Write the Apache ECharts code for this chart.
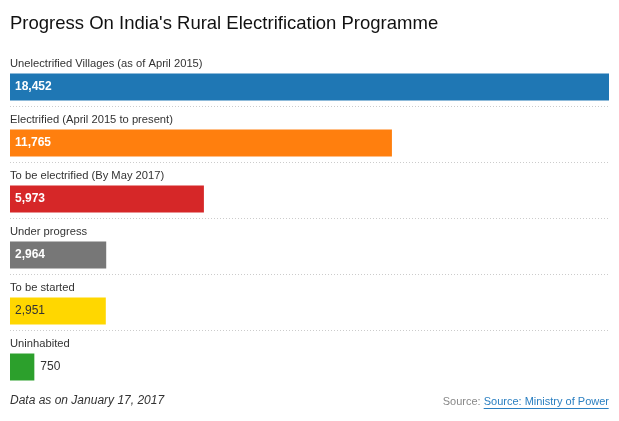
<!DOCTYPE html>
<html>
<head>
<meta charset="utf-8">
<script src="https://cdn.jsdelivr.net/npm/echarts@6/dist/echarts.min.js"></script>
<style>
html,body{margin:0;padding:0;background:#fff;}
#chart{width:619px;height:421px;}
</style>
</head>
<body>
<div id="chart"></div>
<script>
var categories = [
  "Unelectrified Villages (as of April 2015)",
  "Electrified (April 2015 to present)",
  "To be electrified (By May 2017)",
  "Under progress",
  "To be started",
  "Uninhabited"
];
var values = [18452, 11765, 5973, 2964, 2951, 750];
var colors = ["#1f77b4", "#ff7f0e", "#d62728", "#777777", "#ffd700", "#2ca02c"];
var titleText = "Progress On India's Rural Electrification Programme";
var noteText = "Data as on January 17, 2017";
var sourceText = "Source: Ministry of Power";

var FONT = "'Liberation Sans', Arial, sans-serif";
var chart = echarts.init(document.getElementById('chart'), null, {renderer: 'canvas'});

function fmt(v){ return v.toLocaleString('en-US'); }

var barData = values.map(function(v, i){
  var item = {value: v, itemStyle: {color: colors[i]}};
  if (i === 4) {
    item.label = {color: '#333', fontWeight: 'normal'};
  }
  if (i === 5) {
    item.label = {position: 'right', distance: 6, color: '#333', fontWeight: 'normal'};
  }
  return item;
});

chart.setOption({
  animation: false,
  title: {
    text: titleText,
    left: 5, top: 9,
    textStyle: {fontFamily: FONT, fontSize: 18.5, fontWeight: 'normal', color: '#111'}
  },
  grid: {left: 10, right: 10, top: 50, height: 336, containLabel: false},
  xAxis: {
    type: 'value', min: 0, max: Math.max.apply(null, values),
    show: false
  },
  yAxis: {
    type: 'category', data: categories, inverse: true,
    axisLine: {show: false}, axisTick: {show: false}, axisLabel: {show: false},
    splitLine: {show: true, showMinLine: false, showMaxLine: false,
      lineStyle: {type: [1, 2], color: '#cccccc', width: 1}}
  },
  series: [
    {
      type: 'bar', name: 'names', silent: true,
      data: values,
      barWidth: 18, barGap: 0,
      itemStyle: {color: 'rgba(0,0,0,0)'},
      label: {
        show: true, position: 'insideLeft', distance: 0, offset: [0, -1],
        formatter: function(p){ return categories[p.dataIndex]; },
        fontFamily: FONT, fontSize: 11.2, color: '#333'
      }
    },
    {
      type: 'bar', name: 'values', silent: true,
      data: barData,
      barWidth: 27, barGap: 0,
      label: {
        show: true, position: 'insideLeft', distance: 5,
        formatter: function(p){ return fmt(p.value); },
        fontFamily: FONT, fontSize: 12, fontWeight: 'bold', color: '#fff'
      }
    }
  ],
  graphic: [
    {
      type: 'text', left: 10, top: 395,
      style: {text: noteText, font: "italic 12px " + FONT, fill: '#333'}
    },
    {
      type: 'group', right: 10, top: 396,
      children: [
        {type: 'text', left: 0, top: 0,
          style: {text: 'Source: ', font: "11px " + FONT, fill: '#888'}},
        {type: 'text', left: 41, top: 0,
          style: {text: sourceText, font: "11px " + FONT, fill: '#2a7fc1'}},
        {type: 'rect', left: 41, top: 12,
          shape: {width: 125, height: 1}, style: {fill: '#2a7fc1'}}
      ]
    }
  ]
});
</script>
</body>
</html>
